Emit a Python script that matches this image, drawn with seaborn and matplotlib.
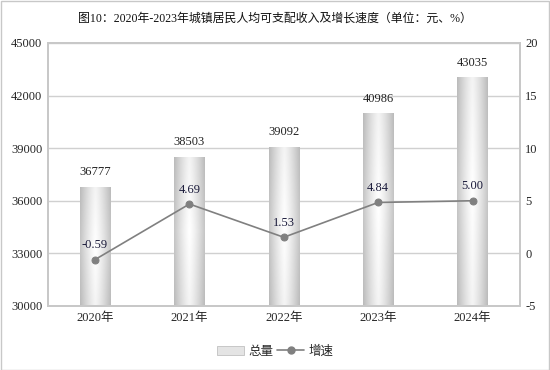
import numpy as np
import pandas as pd
import matplotlib
matplotlib.use("Agg")
import matplotlib.pyplot as plt
import seaborn as sns
from matplotlib.patches import Patch, Rectangle
from matplotlib.lines import Line2D

# data
years = ["2020年", "2021年", "2022年", "2023年", "2024年"]
income = [36777, 38503, 39092, 40986, 43035]
growth = [-0.59, 4.69, 1.53, 4.84, 5.00]
growth_labels = ["-0.59", "4.69", "1.53", "4.84", "5.00"]
title = "图10：2020年-2023年城镇居民人均可支配收入及增长速度（单位：元、%）"

sns.set_theme(style="white")
plt.rcParams["font.family"] = ["Liberation Serif", "Noto Sans CJK SC", "DejaVu Sans"]
plt.rcParams["axes.unicode_minus"] = False

df = pd.DataFrame({"year": years, "income": income, "growth": growth})

fig = plt.figure(figsize=(5.5, 3.7), dpi=100)
fig.patches.append(Rectangle((0.001, 0.001), 0.997, 0.996, transform=fig.transFigure,
                             fill=False, edgecolor="#c8c8c8", lw=1))
ax = fig.add_axes([0.087, 0.173, 0.858, 0.711])

sns.barplot(data=df, x="year", y="income", ax=ax, width=0.32,
            color="#d0d0d0", edgecolor="none", zorder=2)
ax.set_ylim(30000, 45000)
ax.set_yticks(np.arange(30000, 45001, 3000))
ax.set_xlim(-0.5, 4.5)

# gradient fill inside the bars
xs = np.linspace(-1, 1, 64)
ys = np.linspace(-1, 1, 64)
gx, gy = np.meshgrid(xs, ys)
grad = 1 - 0.6 * np.abs(gx) ** 1.3 - 0.12 * np.abs(gy)
cmap = matplotlib.colors.LinearSegmentedColormap.from_list("g", ["#a0a0a0", "#ffffff"])
for p in list(ax.patches):
    x0, w = p.get_x(), p.get_width()
    h = p.get_height()
    im = ax.imshow(grad, extent=[x0, x0 + w, 30000, h], aspect="auto",
                   cmap=cmap, vmin=0, vmax=1, zorder=2.5)
    im.set_clip_path(p)

for i, v in enumerate(income):
    ax.text(i, v + 500, str(v), ha="center", va="bottom", fontsize=9, color="#222222")

ax.yaxis.grid(True, color="#d0d0d0", lw=1)
ax.set_axisbelow(True)
for s in ax.spines.values():
    s.set_color("#c8c8c8")
ax.set_xlabel("")
ax.set_ylabel("")
ax.tick_params(axis="both", labelsize=9, length=0, pad=4)

ax2 = ax.twinx()
sns.lineplot(x=np.arange(len(years)), y=growth, ax=ax2, color="#808080", lw=1.2,
             marker="o", markersize=5, markeredgecolor="#808080", zorder=5)
ax2.set_ylim(-5, 20)
ax2.set_yticks(np.arange(-5, 21, 5))
ax2.tick_params(axis="y", labelsize=9, length=0, pad=4)
for s in ax2.spines.values():
    s.set_color("#c8c8c8")
for i, (v, lab) in enumerate(zip(growth, growth_labels)):
    ax2.text(i, v + 0.8, lab, ha="center", va="bottom", fontsize=9, color="#1a1a3a")

fig.text(0.5, 0.95, title, ha="center", va="center", fontsize=8.6, color="#111111")

handles = [Patch(facecolor="#e4e4e4", edgecolor="#c0c0c0", lw=0.6),
           Line2D([0], [0], color="#808080", lw=1.2, marker="o", markersize=5)]
fig.legend(handles, ["总量", "增速"], loc="center", bbox_to_anchor=(0.5, 0.05), ncol=2,
           frameon=False, fontsize=9, handlelength=2.2, columnspacing=0.3, handletextpad=0.3)

fig.savefig("out.png", dpi=100)
